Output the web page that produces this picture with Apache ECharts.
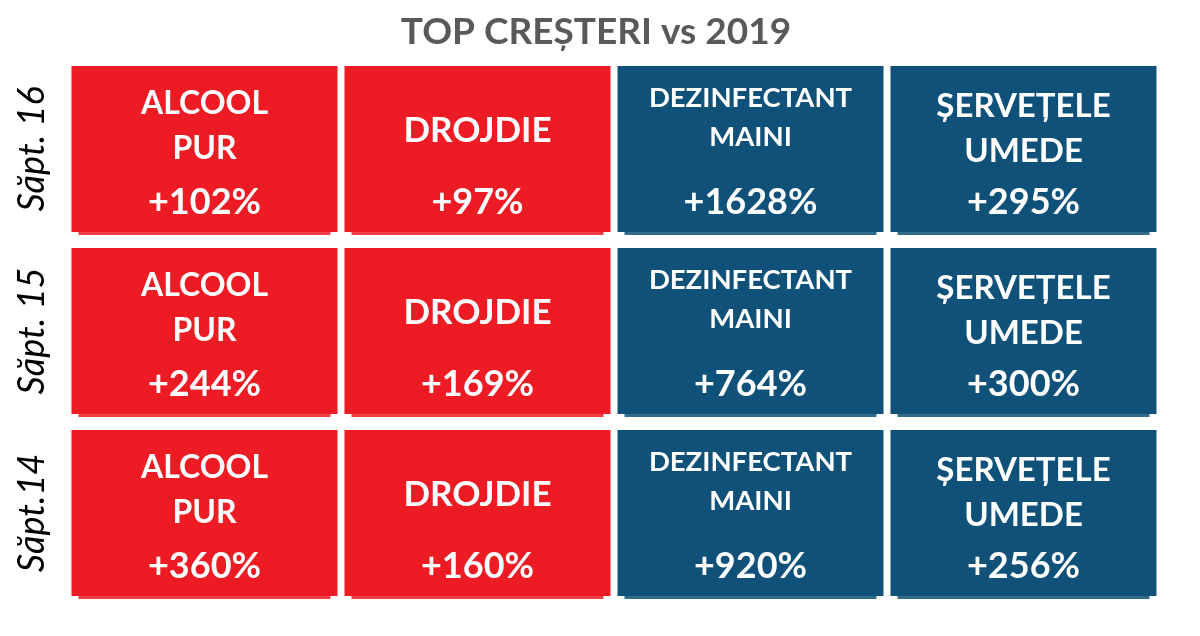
<!DOCTYPE html>
<html>
<head>
<meta charset="utf-8">
<script src="https://cdn.jsdelivr.net/npm/echarts@6/dist/echarts.min.js"></script>
<style>
html,body{margin:0;padding:0;background:#fff;}
#chart{width:1200px;height:636px;}
</style>
</head>
<body>
<div id="chart"></div>
<script>
// ---- data ----
const titleText = 'TOP CREȘTERI vs 2019';
const products = ['ALCOOL\nPUR', 'DROJDIE', 'DEZINFECTANT\nMAINI', 'ȘERVEȚELE\nUMEDE'];
const weeks = ['Săpt. 16', 'Săpt. 15', 'Săpt.14'];
const growthWeek16 = [102, 97, 1628, 295];
const growthWeek15 = [244, 169, 764, 300];
const growthWeek14 = [360, 160, 920, 256];

// ---- styles ----
const RED = '#ED1C24';
const BLUE = '#0F5179';
const tileColors = [RED, RED, BLUE, BLUE];
const nameStyle = [
  {size: 32, lh: 45, dy: -23},
  {size: 35, lh: 40, dy: -18},
  {size: 27.5, lh: 39, dy: -31},
  {size: 33, lh: 45, dy: -20}
];
const FONT = 'Lato, "Open Sans", sans-serif';

const rows = [growthWeek16, growthWeek15, growthWeek14];
const seriesData = [];
rows.forEach(function (arr, yi) {
  arr.forEach(function (v, xi) { seriesData.push([xi, yi, v]); });
});

function renderItem(params, api) {
  const xi = api.value(0), yi = api.value(1), v = api.value(2);
  const c = api.coord([xi, yi]);
  const s = api.size([1, 1]);
  const w = s[0] - 7, h = s[1] - 16;
  const col = tileColors[xi];
  const ns = nameStyle[xi];
  return {
    type: 'group',
    children: [
      {type: 'rect', shape: {x: c[0] - w / 2 + 7, y: c[1] - h / 2 + 3, width: w - 14, height: h},
       style: {fill: col, opacity: 0.85}},
      {type: 'rect', shape: {x: c[0] - w / 2, y: c[1] - h / 2, width: w, height: h},
       style: {fill: col}},
      {type: 'text', x: c[0], y: c[1] + ns.dy,
       style: {text: products[xi], fill: '#fff', font: 'bold ' + ns.size + 'px ' + FONT,
               lineHeight: ns.lh, align: 'center', verticalAlign: 'middle'}},
      {type: 'text', x: c[0], y: c[1] + 53,
       style: {text: '+' + v + '%', fill: '#fff', font: 'bold 36px ' + FONT,
               align: 'center', verticalAlign: 'middle'}}
    ]
  };
}

const chart = echarts.init(document.getElementById('chart'));
chart.setOption({
  animation: false,
  title: {
    text: titleText, left: 591, top: 9, textAlign: 'center',
    textStyle: {fontFamily: FONT, fontWeight: 'bold', fontSize: 37, color: '#595959'}
  },
  grid: {left: 68, right: 40, top: 58, bottom: 32},
  xAxis: {
    type: 'category', data: products, position: 'top',
    axisLine: {show: false}, axisTick: {show: false}, axisLabel: {show: false}, splitLine: {show: false}
  },
  yAxis: {
    type: 'category', data: weeks, inverse: true,
    axisLine: {show: false}, axisTick: {show: false}, splitLine: {show: false},
    axisLabel: {rotate: 90, margin: 18, fontFamily: FONT, fontStyle: 'italic', fontSize: 36, color: '#000'}
  },
  series: [{
    type: 'custom', renderItem: renderItem, data: seriesData,
    encode: {x: 0, y: 1}
  }]
});
</script>
</body>
</html>
